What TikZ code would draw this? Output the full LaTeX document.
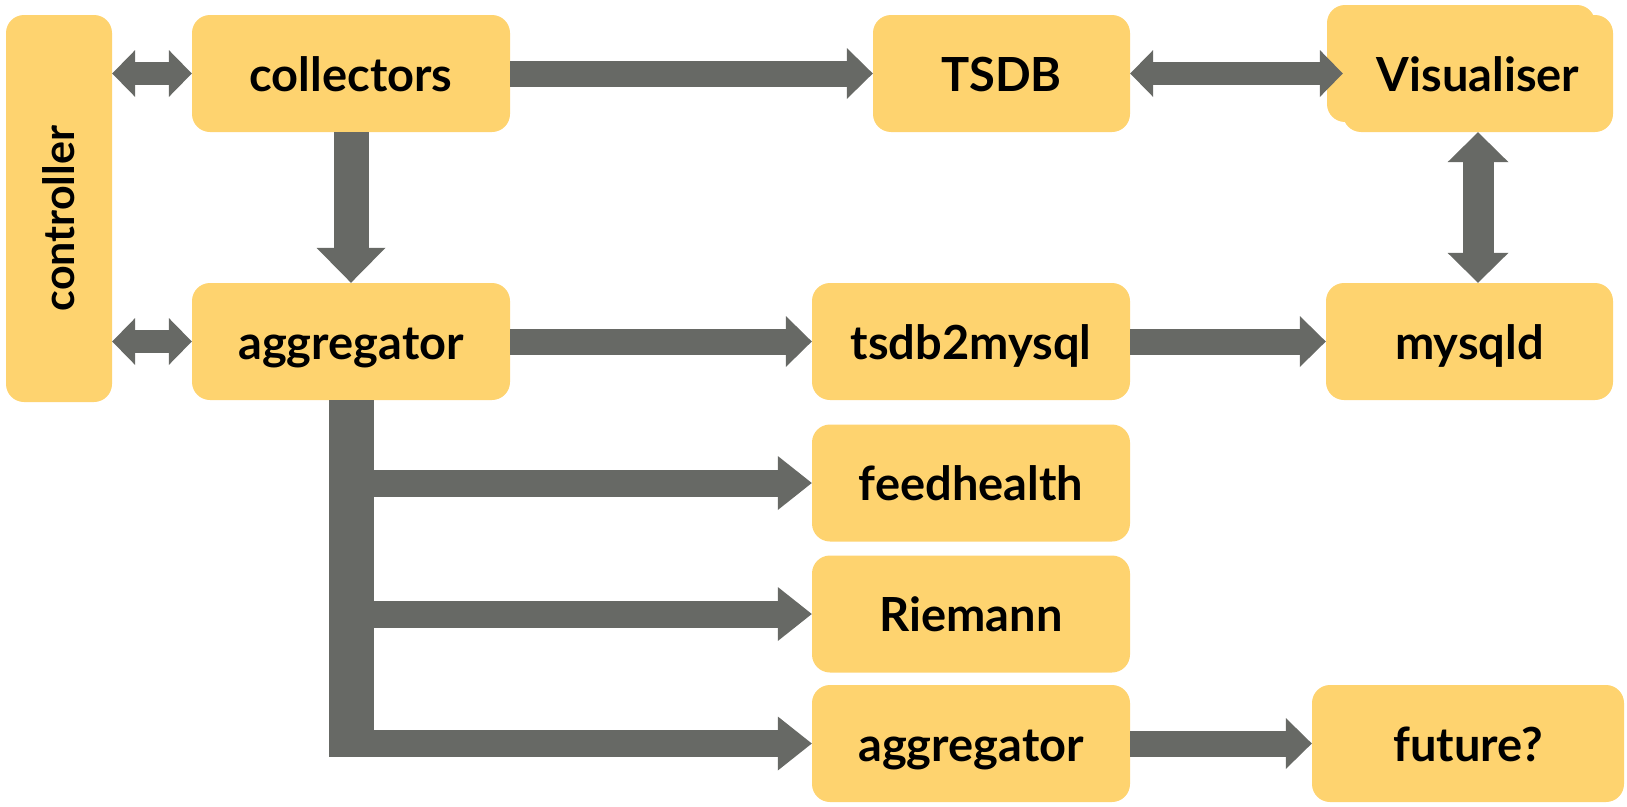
\documentclass[tikz,border=0pt]{standalone}
\usepackage{fontspec}
\setmainfont{Lato}
\usetikzlibrary{arrows.meta}
\definecolor{boxy}{RGB}{254,211,111}
\definecolor{arrg}{RGB}{103,105,101}
\begin{document}
\begin{tikzpicture}[x=1pt,y=-1pt,
  box/.style={fill=boxy, rounded corners=18pt, inner sep=0pt,
    font=\fontsize{47}{54}\selectfont\bfseries, text height=35pt, text depth=0pt,
    minimum height=117pt},
  conn/.style={draw=arrg, line width=26pt,
    -{Triangle[width=51pt,length=26pt,line width=0pt]}},
  dbl/.style={draw=arrg, line width=23pt,
    {Triangle[width=47pt,length=23pt,line width=0pt]}-{Triangle[width=47pt,length=23pt,line width=0pt]}},
  downarr/.style={draw=arrg, line width=35pt,
    -{Triangle[width=69pt,length=35pt,line width=0pt]}},
  vertarr/.style={draw=arrg, line width=31pt,
    {Triangle[width=61pt,length=30pt,line width=0pt]}-{Triangle[width=61pt,length=30pt,line width=0pt]}},
  branch/.style={draw=arrg, line width=27pt,
    -{Triangle[width=54pt,length=34pt,line width=0pt]}},
  bar/.style={draw=arrg, line width=45pt}
]
\useasboundingbox (0,0) rectangle (1627,806);

% boxes
\node[box, minimum width=106pt, minimum height=387pt, text height=, text depth=,
  font=\fontsize{43}{50}\selectfont\bfseries] (controller) at (59,208.5)
  {\rotatebox{90}{\vphantom{l}controller\hspace*{20pt}}};
\node[box, minimum width=318pt] (collectors) at (351,73.5) {collectors};
\node[box, minimum width=257pt] (tsdb) at (1001.5,73.5) {TSDB};
\node[box, minimum width=268pt] (visback) at (1461,63.5) {};
\node[box, minimum width=270pt] (vis) at (1478,73.5) {Visualiser};
\node[box, minimum width=318pt] (aggregator) at (351,341.5) {aggregator};
\node[box, minimum width=318pt] (t2m) at (971,341.5) {tsdb2mysql};
\node[box, minimum width=287pt] (mysqld) at (1469.5,341.5) {mysqld};
\node[box, minimum width=318pt] (fh) at (971,483) {feedhealth};
\node[box, minimum width=318pt] (riemann) at (971,614) {Riemann};
\node[box, minimum width=318pt] (agg2) at (971,743.5) {aggregator};
\node[box, minimum width=312pt] (future) at (1468,743.5) {future?};

% connectors
\draw[dbl] (controller.east |- collectors.west) -- (collectors.west);
\draw[dbl] (controller.east |- aggregator.west) -- (aggregator.west);
\draw[conn] (collectors.east) -- (tsdb.west);
\draw[dbl] (tsdb.east) -- (vis.west);
\draw[downarr] (collectors.south) -- (aggregator.north);
\draw[vertarr] (vis.south) -- (vis.south |- mysqld.north);
\draw[conn] (aggregator.east) -- (t2m.west);
\draw[conn] (t2m.east) -- (mysqld.west);
\draw[conn] (agg2.east) -- (future.west);

\coordinate (barend) at (351,757);
\draw[bar] (aggregator.south) -- (aggregator.south |- barend);
\draw[branch] (aggregator.south |- fh.west) -- (fh.west);
\draw[branch] (aggregator.south |- riemann.west) -- (riemann.west);
\draw[branch] (aggregator.south |- agg2.west) -- (agg2.west);
\end{tikzpicture}
\end{document}
